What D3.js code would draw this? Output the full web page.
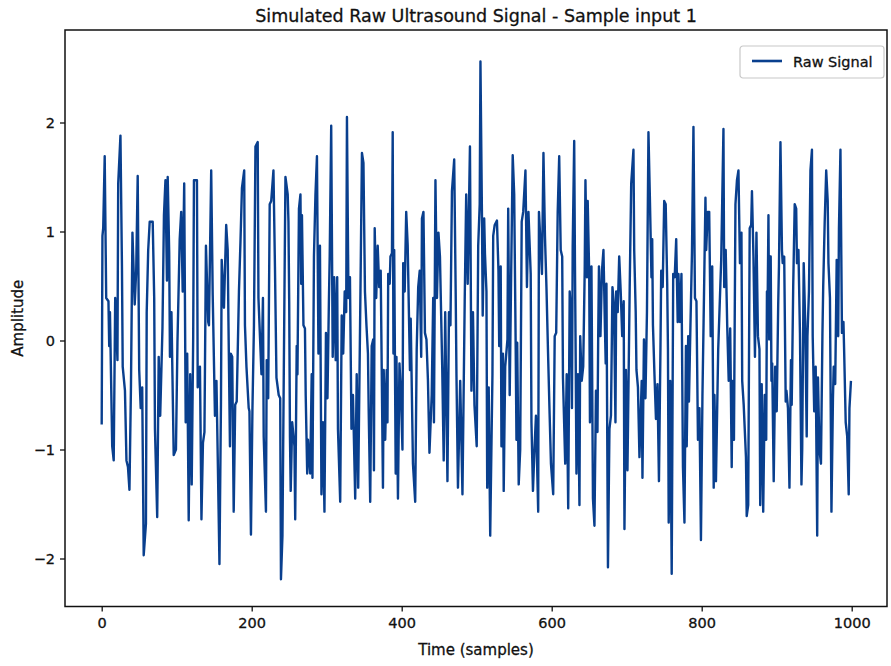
<!DOCTYPE html>
<html>
<head>
<meta charset="utf-8">
<script src="https://cdn.jsdelivr.net/npm/d3@7"></script>
<style>
  body { margin: 0; background: #fff; }
  text { font-family: "DejaVu Sans", sans-serif; fill: #111; stroke: #111; stroke-width: 0.3px; }
</style>
</head>
<body>
<svg id="chart"></svg>
<script>
// values (sample index, amplitude)
const samples = [
  0,1,2,4,6,9,10,11,14,16,18,21,22,25,27,28,31,33,35,37,39,41,44,46,48,50,52,54,56,59,
  60,62,64,68,70,71,74,76,78,81,83,85,87,88,90,91,93,96,99,101,104,106,108,110,112,114,116,118,120,122,
  123,127,128,131,133,135,137,139,142,143,146,148,151,153,155,157,159,160,163,166,168,169,171,172,174,176,178,180,183,185,
  187,190,191,193,196,197,199,201,203,205,208,209,213,215,216,219,220,222,224,226,229,231,233,236,238,239,241,244,245,
  248,249,250,251,252,254,257,258,260,261,263,265,266,267,269,271,272,274,275,278,280,281,283,285,287,289,291,293,295,297,
  299,301,303,304,306,308,310,312,314,315,318,320,322,324,326,327,329,331,333,335,338,340,342,345,347,349,351,353,355,356,
  358,360,362,363,364,366,368,370,372,
  375,376,378,380,381,382,384,385,387,388,389,390,392,393,395,397,399,401,402,404,406,408,411,412,415,418,420,422,424,426,
  427,429,431,433,435,437,440,442,443,445,447,449,451,454,456,458,460,461,463,465,467,470,472,473,475,478,481,484,486,488,
  491,493,495,497,500,
  502,504,505,507,508,510,511,513,514,516,518,521,522,524,527,529,530,532,533,535,536,538,541,542,544,546,548,550,552,553,
  554,556,558,560,562,565,567,569,572,573,575,577,579,582,583,585,587,589,591,593,595,597,599,602,604,606,608,610,612,614,
  615,618,620,622,624,626,627,628,630,
  631,632,633,635,637,638,640,642,644,645,647,648,650,651,653,655,657,659,661,662,663,665,667,669,671,672,673,675,677,679,
  681,683,685,686,688,690,692,694,696,697,699,701,704,706,709,710,712,713,715,717,720,721,723,725,727,729,731,733,734,735,
  737,739,741,743,745,746,748,750,752,754,
  755,756,758,760,762,764,766,768,769,771,773,775,777,779,780,782,783,785,787,789,791,793,795,797,799,801,803,805,806,808,
  810,812,814,816,817,819,822,824,826,829,830,832,834,836,838,840,841,843,845,847,849,851,853,854,856,859,860,862,864,866,
  867,869,871,873,875,877,878,880,882,884,886,
  887,888,889,890,891,892,893,894,896,898,900,902,903,905,907,908,910,912,913,915,917,919,920,922,924,926,927,929,931,933,
  934,936,938,940,941,943,945,947,948,950,952,954,955,957,959,961,962,964,966,968,969,971,973,975,976,978,980,982,983,985,
  987,989,990,992,994,996,997,999
];
const amplitude = [
  -0.77,0.96,1.03,1.69,0.39,0.36,-0.05,0.26,-0.97,-1.10,0.39,-0.18,1.44,1.88,0.68,-0.24,-0.46,-1.10,-1.16,-1.37,-0.43,0.99,0.33,0.64,1.51,-0.27,-0.62,-0.43,-1.97,-1.68,
  0.26,0.83,1.09,1.09,0.39,-0.81,-1.62,-0.15,-0.69,0.11,1.15,1.47,0.55,1.50,0.80,-0.15,0.26,-1.05,-1.00,-0.02,0.93,1.18,0.45,1.44,-0.75,-0.12,-1.65,-0.31,-1.32,0.04,
  1.47,1.47,-0.43,-0.24,-1.64,-0.94,-0.84,0.87,0.17,0.14,1.56,0.42,-0.69,-0.37,-1.19,-2.05,-0.59,0.74,0.30,1.06,0.83,0.17,-0.97,-0.12,-0.15,-1.57,-0.59,-0.56,0.45,0.90,
  1.40,1.56,0.14,-0.24,-0.62,-0.65,-1.78,-0.62,0.14,1.78,1.82,0.39,-0.31,0.39,-0.88,-1.57,-0.18,-0.53,1.25,1.28,1.56,0.68,-0.34,-0.50,-0.53,-2.19,-1.79,0.71,1.50,
  1.34,1.09,0.36,-0.88,-1.38,-0.75,-0.97,-1.64,-0.05,-0.31,1.21,1.34,0.52,1.15,0.14,0.11,-0.50,-1.22,-0.91,-1.22,-0.31,-1.26,0.77,1.34,1.69,-0.12,0.87,-1.41,-0.75,-1.57,
  0.07,-0.53,0.39,0.77,1.97,-0.15,0.58,-0.18,0.58,-0.81,-1.48,0.23,-0.12,0.45,0.26,2.05,0.39,0.58,-0.81,-0.50,-1.45,-0.31,-1.35,0.45,1.72,1.63,0.45,0.14,-0.12,-0.65,
  -1.48,-0.05,0.01,-1.19,1.03,0.39,0.87,0.49,0.64,
  -1.35,-0.27,-0.91,-0.27,-0.75,0.61,0.52,0.77,0.80,1.91,-0.12,0.83,-1.22,-0.15,-1.45,-0.21,-0.50,-1.00,0.71,0.45,1.18,0.87,-0.27,0.20,-1.13,-1.48,-0.08,0.49,0.64,-0.15,
  1.12,1.18,0.07,0.01,-0.37,-1.03,-0.50,0.39,-0.75,1.47,0.39,0.99,0.77,-0.24,-1.10,0.26,-0.78,-1.29,0.26,0.14,1.37,1.66,0.42,-0.31,-1.35,-0.37,-1.41,0.36,1.34,0.52,
  1.78,-0.46,0.26,-0.59,-0.97,
  0.87,1.25,2.56,1.15,0.23,1.12,0.80,0.45,-1.35,-0.43,-1.79,-0.31,0.96,1.06,1.10,0.64,-0.05,0.68,-0.97,-0.12,-1.38,-0.24,0.01,1.21,-0.50,0.64,1.70,1.34,-0.08,-0.91,
  -0.02,-1.32,-1.00,1.09,1.18,1.56,0.49,1.18,0.61,-0.75,-1.38,-1.00,-0.69,-1.57,1.18,0.90,0.61,1.72,0.96,0.49,-0.08,-0.62,-1.13,-1.41,0.04,0.07,1.18,1.69,0.83,0.77,
  -0.34,-1.13,-0.31,-1.54,0.45,0.20,-0.62,0.87,1.83,
  0.71,-0.18,-1.22,-0.31,-1.51,0.04,-0.37,-0.24,0.64,1.47,0.58,1.28,0.61,-0.75,0.68,-1.45,-1.70,-0.46,-0.84,0.04,0.68,0.04,0.64,0.83,0.11,-0.21,0.52,-2.08,-0.81,-0.69,
  0.49,0.33,-0.75,0.45,0.26,0.77,0.45,0.04,0.36,-1.73,-0.27,-1.19,0.49,1.44,1.75,0.83,0.26,-0.27,-0.43,-1.07,-0.37,-1.26,0.01,-0.53,0.26,1.91,1.28,0.58,0.93,0.14,
  -0.31,-0.72,-0.40,-1.29,-0.08,0.64,0.49,1.28,1.25,0.52,
  -0.08,-1.67,-0.37,-2.14,0.61,0.58,0.93,0.17,0.61,0.17,0.61,-1.16,-1.67,-0.05,-0.97,0.04,-0.56,0.14,0.80,1.96,0.39,0.36,-0.91,-0.62,-1.83,-0.50,0.39,1.31,0.83,1.18,
  1.18,0.04,0.68,-1.35,-0.50,-1.29,-0.08,0.33,0.74,1.94,0.49,0.83,0.14,-0.37,0.11,-1.16,-0.37,-0.91,1.25,1.47,1.56,0.71,0.99,-0.37,-0.59,-1.07,-1.61,-1.51,1.03,1.06,
  1.37,0.77,-0.15,0.99,0.04,-0.08,-1.51,-0.40,-1.57,-0.50,-0.91,
  0.45,0.39,1.15,0.01,0.77,0.77,-0.37,-0.21,-1.29,-0.24,-0.65,0.33,0.68,1.82,0.83,0.71,0.77,-0.56,-0.46,-0.62,-1.35,-0.18,-0.59,0.49,1.25,1.21,0.71,0.83,0.07,-1.32,
  -1.00,0.71,0.17,-0.88,0.04,0.45,1.56,1.75,0.04,-0.65,-0.24,-1.79,-0.34,-1.00,-1.13,0.07,0.49,1.09,1.56,1.28,0.71,0.39,-1.57,-0.53,-0.24,-0.40,0.74,0.04,1.03,1.75,
  0.07,0.17,-0.12,-0.75,-0.88,-1.41,-0.62,-0.37
];
const xTicks = [0, 200, 400, 600, 800, 1000];
const yTicks = [-2, -1, 0, 1, 2];
const title = "Simulated Raw Ultrasound Signal - Sample input 1";
const xLabel = "Time (samples)";
const yLabel = "Amplitude";
const seriesName = "Raw Signal";

const width = 891, height = 666;
const frame = { left: 65, right: 887, top: 30, bottom: 606.5 };
const lineColor = "#093f8e";

const data = samples.map((s, i) => ({ s: s, v: amplitude[i] }));

const svg = d3.select("#chart").attr("width", width).attr("height", height);

const x = d3.scaleLinear().domain([0, 1000]).range([101.7, 851.7]);
const y = d3.scaleLinear().domain([-2, 2]).range([558.5, 122.5]);

// clip to the axes box
svg.append("clipPath").attr("id", "plotClip")
  .append("rect")
  .attr("x", frame.left).attr("y", frame.top)
  .attr("width", frame.right - frame.left).attr("height", frame.bottom - frame.top);

const line = d3.line().x(d => x(d.s)).y(d => y(d.v));

svg.append("path")
  .datum(data)
  .attr("clip-path", "url(#plotClip)")
  .attr("fill", "none")
  .attr("stroke", lineColor)
  .attr("stroke-width", 2.4)
  .attr("stroke-linejoin", "round")
  .attr("d", line);

// axes
const xAxis = d3.axisBottom(x).tickValues(xTicks).tickSize(5).tickPadding(6).tickFormat(d3.format("d"));
const yAxis = d3.axisLeft(y).tickValues(yTicks).tickSize(5).tickPadding(5)
  .tickFormat(d => d < 0 ? "\u2212" + Math.abs(d) : d);

const xg = svg.append("g").attr("transform", `translate(0,${frame.bottom})`).call(xAxis);
const yg = svg.append("g").attr("transform", `translate(${frame.left},0)`).call(yAxis);
[xg, yg].forEach(g => {
  g.select(".domain").remove();
  g.selectAll(".tick line").attr("stroke", "#111").attr("stroke-width", 1.3);
  g.selectAll(".tick text").attr("font-size", 14.5).attr("font-family", "DejaVu Sans").attr("fill", "#111");
});

// frame
svg.append("rect")
  .attr("x", frame.left).attr("y", frame.top)
  .attr("width", frame.right - frame.left).attr("height", frame.bottom - frame.top)
  .attr("fill", "none").attr("stroke", "#111").attr("stroke-width", 1.5);

// title and labels
svg.append("text")
  .attr("x", (frame.left + frame.right) / 2).attr("y", 22)
  .attr("text-anchor", "middle").attr("font-size", 17.5)
  .text(title);

svg.append("text")
  .attr("x", (frame.left + frame.right) / 2).attr("y", 655)
  .attr("text-anchor", "middle").attr("font-size", 15)
  .text(xLabel);

svg.append("text")
  .attr("transform", `translate(23,${(frame.top + frame.bottom) / 2}) rotate(-90)`)
  .attr("text-anchor", "middle").attr("font-size", 15)
  .text(yLabel);

// legend
const legend = svg.append("g").attr("transform", "translate(740,46)");
legend.append("rect")
  .attr("width", 144).attr("height", 32).attr("rx", 3)
  .attr("fill", "#fff").attr("fill-opacity", 0.8)
  .attr("stroke", "#c8c8c8").attr("stroke-width", 1.2);
legend.append("line")
  .attr("x1", 12).attr("x2", 42).attr("y1", 15).attr("y2", 15)
  .attr("stroke", lineColor).attr("stroke-width", 2.6);
legend.append("text")
  .attr("x", 53).attr("y", 20.5).attr("font-size", 14.5)
  .text(seriesName);
</script>
</body>
</html>
